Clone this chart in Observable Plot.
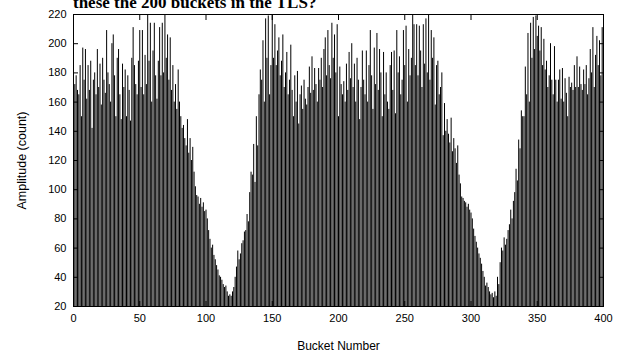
<!DOCTYPE html>
<html>
<head>
<meta charset="utf-8">
<script src="https://cdn.jsdelivr.net/npm/d3@7"></script>
<script src="https://cdn.jsdelivr.net/npm/@observablehq/plot@0.6"></script>
<style>
  html, body { margin: 0; padding: 0; background: white; }
  #wrap { position: relative; width: 617px; height: 354px; overflow: hidden; }
  #title { position: absolute; left: 73px; top: -7px; font: bold 17px "Liberation Serif", "Times New Roman", serif; line-height: 20px; color: black; white-space: nowrap; }
  #chart { position: absolute; left: 0; top: 0; }
</style>
</head>
<body>
<div id="wrap">
  <div id="chart"></div>
  <div id="title"></div>
</div>
<script>
const titleText = "these the 200 buckets in the TLS?";
const xLabel = "Bucket Number";
const yLabel = "Amplitude (count)";
const xTicks = [0, 50, 100, 150, 200, 250, 300, 350, 400];
const yTicks = [20, 40, 60, 80, 100, 120, 140, 160, 180, 200, 220];
const baseline = 20;

// amplitude per bucket 0..400
const amplitude = [
  183,172,178,168,165,185,150,197,175,196,162,185,168,188,142,175,180,165,196,170,
  186,158,190,175,166,209,180,172,160,200,206,178,150,190,196,165,148,186,170,182,
  150,178,168,147,190,211,185,172,165,188,209,170,209,165,192,172,220,188,214,160,
  195,214,178,162,188,211,178,214,180,220,190,206,175,204,168,185,160,172,155,182,
  160,150,142,144,135,130,148,125,135,120,129,112,102,96,95,90,94,88,91,85,
  86,80,72,66,60,62,55,52,48,45,41,40,38,35,33,34,30,27,28,27,
  30,33,40,47,58,52,56,63,65,71,72,83,78,98,112,110,131,105,150,130,
  165,182,175,202,160,217,190,219,165,185,220,190,213,185,195,204,178,188,206,170,
  180,194,165,175,199,168,150,178,160,181,145,165,171,155,175,162,158,170,184,166,
  191,168,183,172,160,183,175,190,170,196,204,178,209,185,176,214,190,206,180,213,
  150,184,172,165,174,160,186,168,194,176,200,170,186,160,190,175,148,170,195,175,
  165,195,160,185,209,178,155,197,172,207,168,196,180,150,194,165,180,160,155,185,
  194,168,195,152,209,180,191,165,175,209,185,212,160,196,178,190,220,213,185,213,
  178,212,195,170,213,186,217,180,220,175,209,190,204,158,185,188,165,170,180,137,
  159,140,148,138,132,149,126,135,128,118,130,110,104,95,94,92,91,88,90,86,
  84,80,73,68,64,60,56,53,49,44,40,34,36,33,30,28,29,26,30,27,
  40,35,50,60,58,67,62,66,72,76,86,80,92,98,114,106,134,128,154,150,
  150,184,165,207,160,214,190,218,196,219,205,212,195,211,185,203,182,188,170,178,
  200,175,165,198,175,160,175,182,162,183,160,176,166,150,177,170,173,168,185,170,
  191,170,184,172,168,182,172,185,165,176,196,180,211,170,192,205,185,202,178,211,
  205
];
const data = amplitude.map((v, i) => ({bucket: i, value: v}));
document.getElementById("title").textContent = titleText;

const chart = Plot.plot({
  width: 617,
  height: 354,
  marginLeft: 73,
  marginRight: 14,
  marginTop: 14,
  marginBottom: 48,
  style: {fontFamily: "'Liberation Sans', Arial, sans-serif", fontSize: "11px", color: "black", background: "white", overflow: "visible"},
  x: {domain: [0, 400], ticks: xTicks},
  y: {domain: [baseline, 220], ticks: yTicks},
  marks: [
    Plot.ruleX(data, {x: "bucket", y1: baseline, y2: "value", stroke: "black", strokeWidth: 1}),
    Plot.frame({stroke: "black", strokeWidth: 1}),
    Plot.axisX({anchor: "bottom", ticks: xTicks, tickSize: -5, tickPadding: 13, label: null, fontSize: 11}),
    Plot.axisX({anchor: "bottom", ticks: [], tickSize: 0, label: xLabel, labelAnchor: "center", labelOffset: 43, labelArrow: "none", fontSize: 12}),
    Plot.axisX({anchor: "top", ticks: xTicks, tickSize: -5, tickFormat: () => "", label: null}),
    Plot.axisY({anchor: "left", ticks: yTicks, tickSize: -5, tickPadding: 12, label: null, fontSize: 11}),
    Plot.axisY({anchor: "left", ticks: [], tickSize: 0, label: yLabel, labelAnchor: "center", labelOffset: 56, labelArrow: "none", fontSize: 12.5}),
    Plot.axisY({anchor: "right", ticks: yTicks, tickSize: -5, tickFormat: () => "", label: null})
  ]
});
document.getElementById("chart").appendChild(chart);
</script>
</body>
</html>
